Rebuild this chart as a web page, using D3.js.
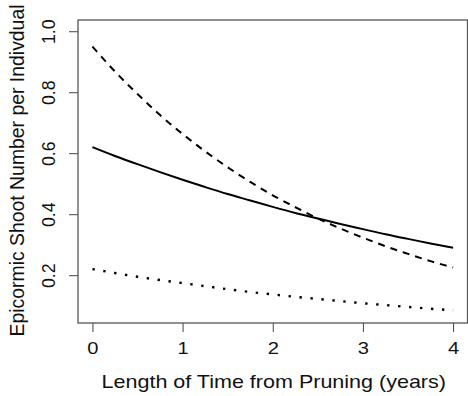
<!DOCTYPE html>
<html><head><meta charset="utf-8">
<script src="https://cdn.jsdelivr.net/npm/d3@7"></script>
<style>body{margin:0;background:#fff}svg{display:block}text{font-family:"Liberation Sans",Arial,sans-serif;fill:#111}</style>
</head><body><svg id="c" width="468" height="396"></svg>
<script>
const years = [0,0.25,0.5,0.75,1,1.25,1.5,1.75,2,2.25,2.5,2.75,3,3.25,3.5,3.75,4];
const solidVals = [0.620,0.591,0.564,0.538,0.513,0.489,0.466,0.445,0.424,0.404,0.386,0.368,0.351,0.334,0.319,0.304,0.290];
const dashedVals = [0.950,0.868,0.794,0.725,0.663,0.606,0.554,0.506,0.462,0.423,0.386,0.353,0.323,0.295,0.270,0.246,0.225];
const dottedVals = [0.220,0.207,0.195,0.184,0.174,0.164,0.154,0.145,0.137,0.129,0.122,0.115,0.108,0.102,0.096,0.090,0.085];
const xTicks = [0,1,2,3,4];
const yTicks = [0.2,0.4,0.6,0.8,1.0];
const xTitle = "Length of Time from Pruning (years)";
const yTitle = "Epicormic Shoot Number per Indivdual";

const svg = d3.select("#c");
const L=78, R=467.5, T=20, B=323;
const x = d3.scaleLinear().domain([-0.16,4.16]).range([L,R]);
const y = d3.scaleLinear().domain([0.0432,1.0368]).range([B,T]);

const gx = svg.append("g").attr("transform",`translate(0,${B})`)
  .call(d3.axisBottom(x).tickValues(xTicks).tickFormat(d3.format("d")).tickSize(9).tickPadding(10));
const gy = svg.append("g").attr("transform",`translate(${L},0)`)
  .call(d3.axisLeft(y).tickValues(yTicks).tickFormat(d3.format(".1f")).tickSize(9).tickPadding(6));
[gx,gy].forEach(g=>{
  g.select(".domain").remove();
  g.selectAll(".tick line").attr("stroke","#444").attr("stroke-width",1);
  g.selectAll(".tick text").attr("fill","#111");
});
gx.selectAll(".tick text").style("font-size","17.2px")
  .attr("transform",function(){const yy=+d3.select(this).attr("y");d3.select(this).attr("y",0);return `translate(0,${yy}) scale(1.17,1)`;});
gy.selectAll(".tick text").style("font-size","17.8px")
  .each(function(d){
    const t=d3.select(this);
    t.attr("x",null).attr("dy",null).attr("text-anchor","middle")
     .attr("transform",`translate(${-23},0) rotate(-90)`);
  });

svg.append("rect").attr("x",L).attr("y",T).attr("width",R-L).attr("height",B-T)
  .attr("fill","none").attr("stroke","#555").attr("stroke-width",1.3);

const line = d3.line().x((d,i)=>x(years[i])).y(d=>y(d)).curve(d3.curveMonotoneX);
svg.append("path").attr("d",line(solidVals)).attr("fill","none").attr("stroke","#000").attr("stroke-width",2);
svg.append("path").attr("d",line(dashedVals)).attr("fill","none").attr("stroke","#000").attr("stroke-width",2).attr("stroke-dasharray","7,6");
svg.append("path").attr("d",line(dottedVals)).attr("fill","none").attr("stroke","#000").attr("stroke-width",2.4).attr("stroke-dasharray","2.4,8.6");

svg.append("text").attr("transform",`translate(${(L+R)/2+1},388.3) scale(1.157,1)`).attr("text-anchor","middle").style("font-size","18.6px").text(xTitle);
svg.append("text").attr("transform",`translate(23.5,${(T+B)/2-1}) rotate(-90)`).attr("text-anchor","middle").style("font-size","19.4px").text(yTitle);
</script></body></html>
